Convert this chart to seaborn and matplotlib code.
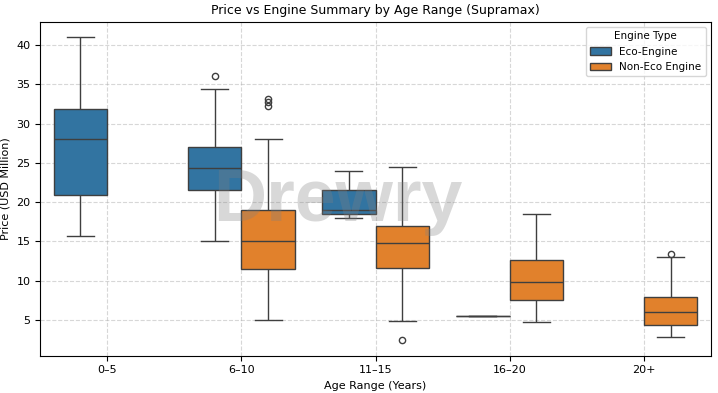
import numpy as np
import matplotlib
matplotlib.use("Agg")
import matplotlib.pyplot as plt
import pandas as pd
import seaborn as sns

age_order = ["0–5", "6–10", "11–15", "16–20", "20+"]
engine_order = ["Eco-Engine", "Non-Eco Engine"]

# prices in USD million per age range / engine type
eco_0_5 = [15.7, 20.9, 28.0, 31.9, 41.0]
eco_6_10 = [15.0, 18.5, 21.6, 23.0, 24.4, 25.6, 27.0, 34.4, 36.0]
non_6_10 = [5.0, 8.0, 9.5, 10.8, 11.5, 12.5, 13.4, 14.2, 15.0,
            16.0, 17.0, 18.2, 19.0, 28.0, 32.2, 32.7, 33.1]
eco_11_15 = [18.0, 18.5, 19.0, 21.5, 24.0]
non_11_15 = [2.4, 4.9, 11.6, 13.0, 14.8, 16.0, 17.0, 20.0, 24.5]
eco_16_20 = [5.5]
non_16_20 = [4.8, 7.6, 9.8, 12.6, 18.5]
non_20p = [2.85, 3.8, 4.35, 5.2, 6.0, 7.0, 7.9, 13.0, 13.4]

groups = [
    ("0–5", "Eco-Engine", eco_0_5),
    ("6–10", "Eco-Engine", eco_6_10),
    ("6–10", "Non-Eco Engine", non_6_10),
    ("11–15", "Eco-Engine", eco_11_15),
    ("11–15", "Non-Eco Engine", non_11_15),
    ("16–20", "Eco-Engine", eco_16_20),
    ("16–20", "Non-Eco Engine", non_16_20),
    ("20+", "Non-Eco Engine", non_20p),
]
rows = []
for age, eng, vals in groups:
    for v in vals:
        rows.append({"Age Range": age, "Engine Type": eng, "Price": v})
df = pd.DataFrame(rows)

fig, ax = plt.subplots(figsize=(7.18, 3.93), dpi=100)
sns.boxplot(data=df, x="Age Range", y="Price", hue="Engine Type",
            order=age_order, hue_order=engine_order, fliersize=4.5, ax=ax)

ax.grid(True, linestyle="--", alpha=0.5)
ax.set_axisbelow(True)
ax.set_title("Price vs Engine Summary by Age Range (Supramax)", fontsize=9)
ax.set_xlabel("Age Range (Years)", fontsize=8)
ax.set_ylabel("Price (USD Million)", fontsize=8)
ax.tick_params(labelsize=8)
ax.legend(title="Engine Type", loc="upper right", fontsize=7.5, title_fontsize=7.5)

# watermark
ax.text(0.444, 0.405, "Drewry", transform=ax.transAxes, fontsize=53,
        family="Liberation Sans", fontweight="bold", color="gray", alpha=0.3,
        ha="center", va="baseline", zorder=5)

plt.subplots_adjust(left=0.056, right=0.990, top=0.944, bottom=0.095)
plt.savefig("out.png", dpi=100)
